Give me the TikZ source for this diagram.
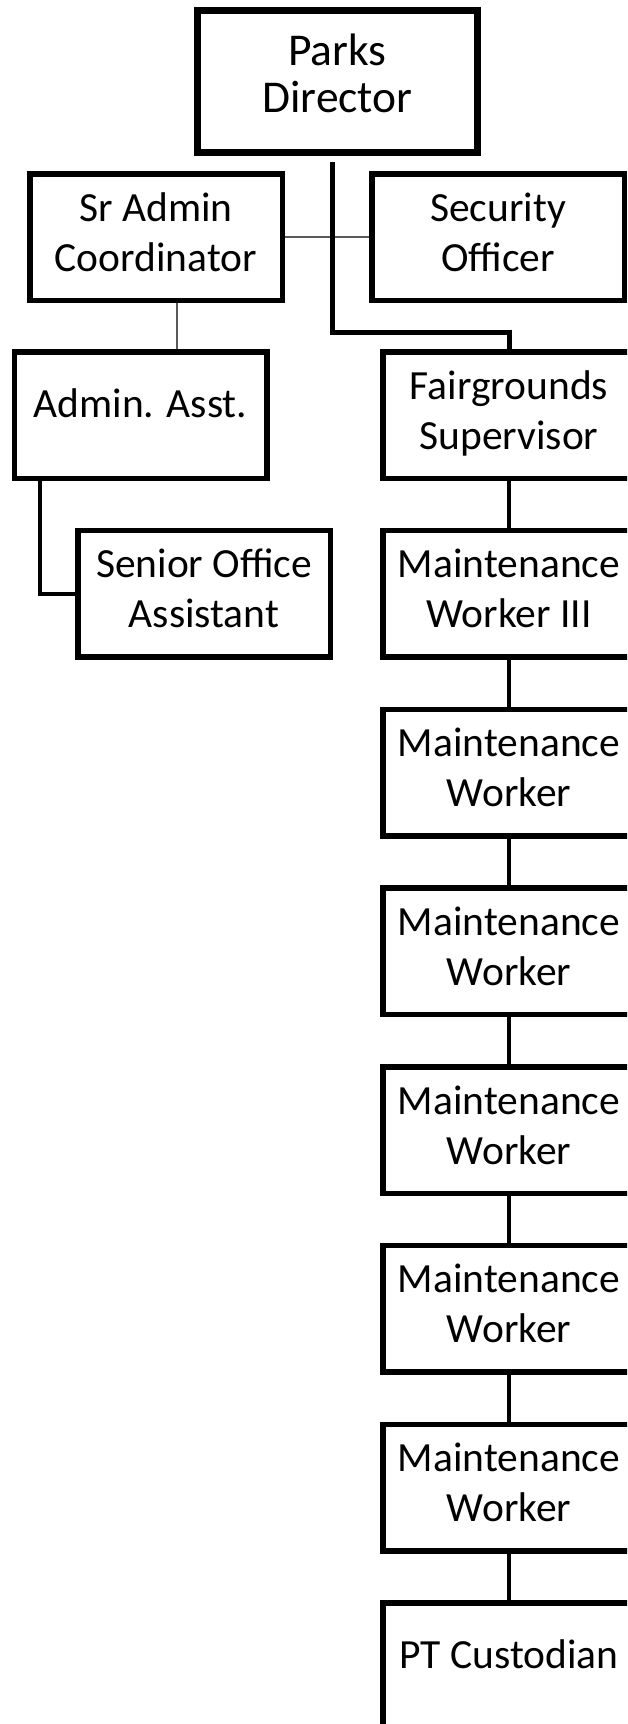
\documentclass[tikz,border=0pt]{standalone}
\usepackage{fontspec}
\setmainfont{Carlito}
\usepackage{tikz}
\usetikzlibrary{calc}

\tikzset{
  post/.style={draw=black, line width=2.75pt, inner sep=0pt,
    minimum width=126.25pt, minimum height=63.25pt, align=center,
    font=\fontsize{20.75}{25}\selectfont, text height=36pt, text depth=2pt},
  oneline/.style={text height=10pt, text depth=7.5pt},
  link/.style={line width=2pt, draw=black},
  thinlink/.style={line width=0.75pt, draw=black!65},
}

\begin{document}
\begin{tikzpicture}[x=0.5pt,y=-0.5pt]
  %%% FRAME %%%
  \path[use as bounding box, clip] (0,0) rectangle (627,1724);

  %%% COORDINATES %%%
  \coordinate (stem) at (332,162);
  \coordinate (elbow) at (332,332);
  \coordinate (tap) at (177,0);
  \coordinate (hook) at (40,0);

  %%% BOXES %%%
  \node[post, line width=3.5pt, minimum width=140pt, minimum height=71pt,
    font=\fontsize{22.75}{23.5}\selectfont, text height=32.5pt] (director) at (337.5,81.5) {Parks\\Director};
  \node[post] (sradmin) at (156,237) {Sr Admin\\Coordinator};
  \node[post] (security) at (498,237) {Security\\Officer};
  \node[post, oneline] (asst) at (140.5,415) {Admin. Asst.};
  \node[post] (senior) at (204,593.5) {Senior Office\\Assistant};

  \node[post] (fair) at (509,415) {Fairgrounds\\Supervisor};
  \node[post] (mwiii) at (509,593.75) {Maintenance\\Worker III};
  \node[post] (mwa) at (509,772.5) {Maintenance\\Worker};
  \node[post] (mwb) at (509,951.25) {Maintenance\\Worker};
  \node[post] (mwc) at (509,1130) {Maintenance\\Worker};
  \node[post] (mwd) at (509,1308.75) {Maintenance\\Worker};
  \node[post] (mwe) at (509,1487.5) {Maintenance\\Worker};
  \node[post, oneline] (custodian) at (509,1666.25) {PT Custodian};

  %%% LINES %%%
  \draw[thinlink] (sradmin.east) -- (security.west);
  \draw[thinlink] (sradmin.south -| tap) -- (asst.north -| tap);
  \draw[link, line width=2.5pt] (stem) -- (elbow) -| (fair.north);
  \draw[link] (asst.south -| hook) |- (senior.west);

  \draw[link] (fair) -- (mwiii);
  \draw[link] (mwiii) -- (mwa);
  \draw[link] (mwa) -- (mwb);
  \draw[link] (mwb) -- (mwc);
  \draw[link] (mwc) -- (mwd);
  \draw[link] (mwd) -- (mwe);
  \draw[link] (mwe) -- (custodian);
\end{tikzpicture}
\end{document}
